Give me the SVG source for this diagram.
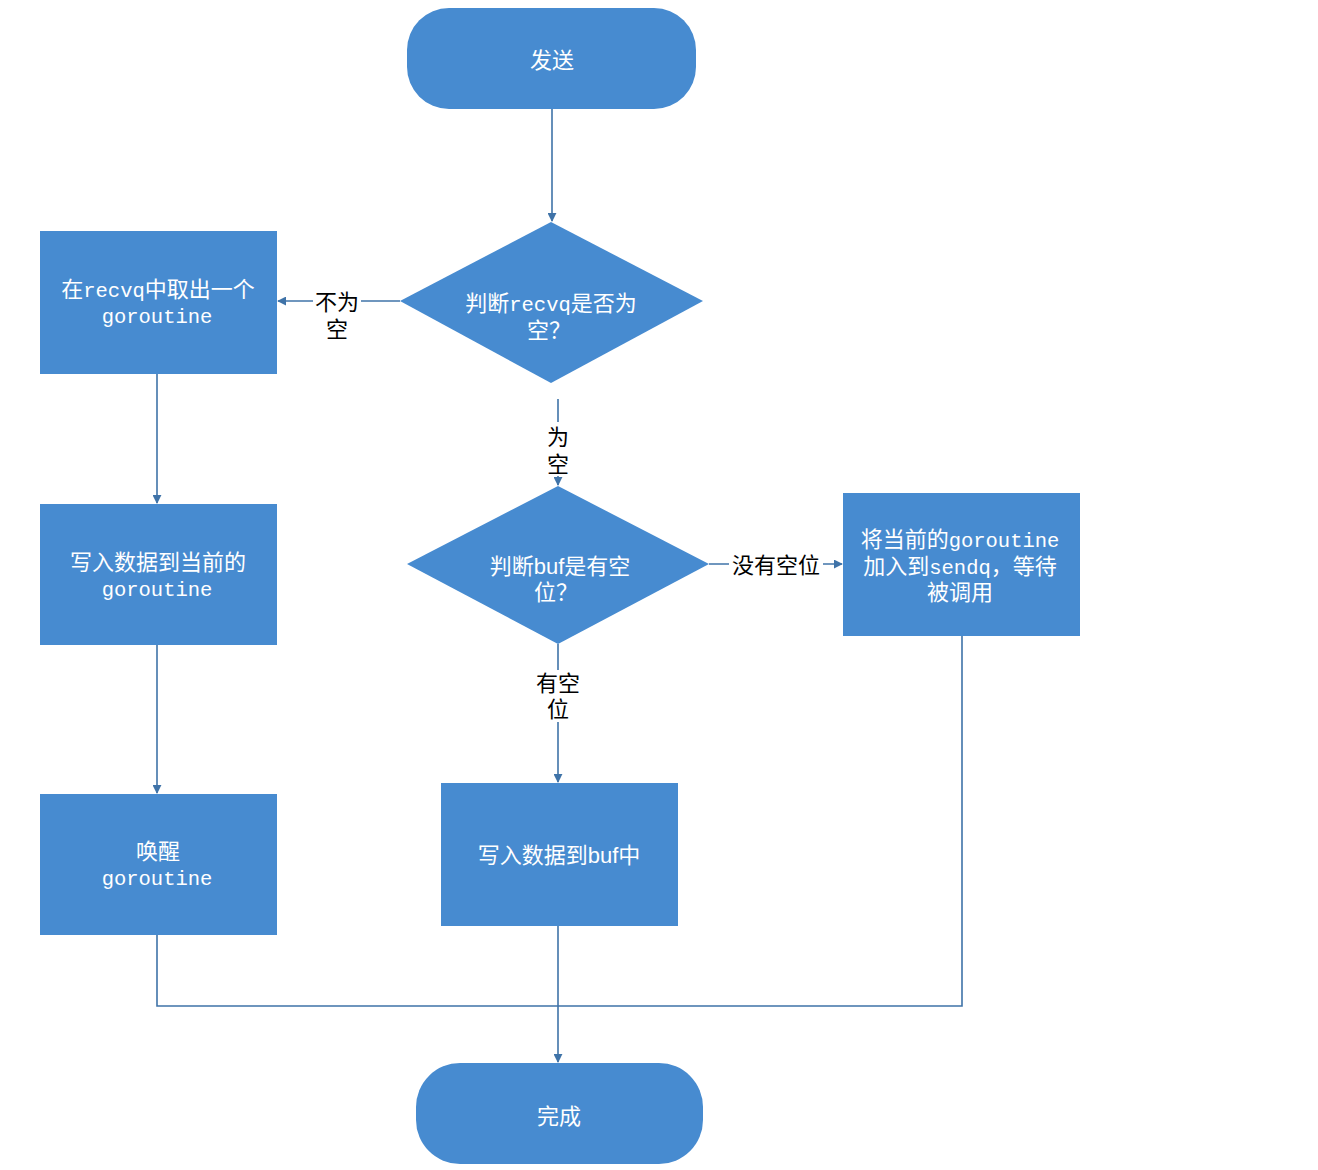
<svg xmlns="http://www.w3.org/2000/svg" width="1318" height="1170" viewBox="0 0 1318 1170">
<style>
.n{fill:#478bd0;}
.t{font-family:"Liberation Mono","Noto Sans CJK SC",monospace;font-size:22px;fill:#ffffff;text-anchor:middle;}
.l{font-size:20.5px;}
.s{font-family:"Liberation Sans","Noto Sans CJK SC",sans-serif;}
.lb{font-family:"Liberation Sans","Noto Sans CJK SC",sans-serif;font-size:22px;fill:#000000;text-anchor:middle;}
.c{fill:none;stroke:#3f73a8;stroke-width:1.6;}
</style>
<defs>
<marker id="a" viewBox="0 0 10 10" refX="9" refY="5" markerWidth="9" markerHeight="9" markerUnits="userSpaceOnUse" orient="auto">
<path d="M0,0 L10,5 L0,10 z" fill="#3f73a8"/>
</marker>
</defs>
<rect width="1318" height="1170" fill="#ffffff"/>
<g id="connectors">
<path class="c" d="M552,109 V221" marker-end="url(#a)"/>
<path class="c" d="M400,301 H278" marker-end="url(#a)"/>
<path class="c" d="M157,374 V503" marker-end="url(#a)"/>
<path class="c" d="M157,645 V793" marker-end="url(#a)"/>
<path class="c" d="M558,399 V485" marker-end="url(#a)"/>
<path class="c" d="M709,564 H842" marker-end="url(#a)"/>
<path class="c" d="M558,644 V782" marker-end="url(#a)"/>
<path class="c" d="M157,935 V1006 H962 V636"/>
<path class="c" d="M558,926 V1062" marker-end="url(#a)"/>
<rect x="313" y="289" width="48" height="50" fill="#ffffff"/>
<text class="lb" x="337" y="310">不为<tspan x="337" dy="27">空</tspan></text>
<rect x="546" y="422" width="24" height="54" fill="#ffffff"/>
<text class="lb" x="558" y="445">为<tspan x="558" dy="27">空</tspan></text>
<rect x="729" y="552" width="94" height="28" fill="#ffffff"/>
<text class="lb" x="776" y="573">没有空位</text>
<rect x="534" y="670" width="48" height="52" fill="#ffffff"/>
<text class="lb" x="558" y="691">有空<tspan x="558" dy="26">位</tspan></text>
</g>
<g id="start">
<rect class="n" x="407" y="8" width="289" height="101" rx="42" ry="42"/>
<text class="t" x="552" y="68">发送</text>
</g>
<g id="check-recvq">
<path class="n" d="M551,222 L703,301 L551,383 L400,301 z"/>
<text class="t" x="551" y="311">判断<tspan class="l">recvq</tspan>是否为<tspan x="549" dy="27">空？</tspan></text>
</g>
<g id="take-recvq">
<rect class="n" x="40" y="231" width="237" height="143"/>
<text class="t" x="158" y="297">在<tspan class="l">recvq</tspan>中取出一个<tspan class="l" x="157" dy="26">goroutine</tspan></text>
</g>
<g id="write-goroutine">
<rect class="n" x="40" y="504" width="237" height="141"/>
<text class="t" x="158" y="570">写入数据到当前的<tspan class="l" x="157" dy="26">goroutine</tspan></text>
</g>
<g id="wake">
<rect class="n" x="40" y="794" width="237" height="141"/>
<text class="t" x="158" y="859">唤醒<tspan class="l" x="157" dy="26">goroutine</tspan></text>
</g>
<g id="check-buf">
<path class="n" d="M558,486 L709,564 L558,644 L407,564 z"/>
<text class="t" x="560" y="574">判断<tspan class="s">buf</tspan>是有空<tspan x="556" dy="26">位？</tspan></text>
</g>
<g id="enqueue">
<rect class="n" x="843" y="493" width="237" height="143"/>
<text class="t" x="960" y="547">将当前的<tspan class="l">goroutine</tspan><tspan x="960" dy="27">加入到</tspan><tspan class="l">sendq</tspan>，等待<tspan x="960" dy="26">被调用</tspan></text>
</g>
<g id="write-buf">
<rect class="n" x="441" y="783" width="237" height="143"/>
<text class="t" x="559" y="863">写入数据到<tspan class="s">buf</tspan>中</text>
</g>
<g id="end">
<rect class="n" x="416" y="1063" width="287" height="101" rx="44" ry="44"/>
<text class="t" x="559" y="1124">完成</text>
</g>
</svg>
